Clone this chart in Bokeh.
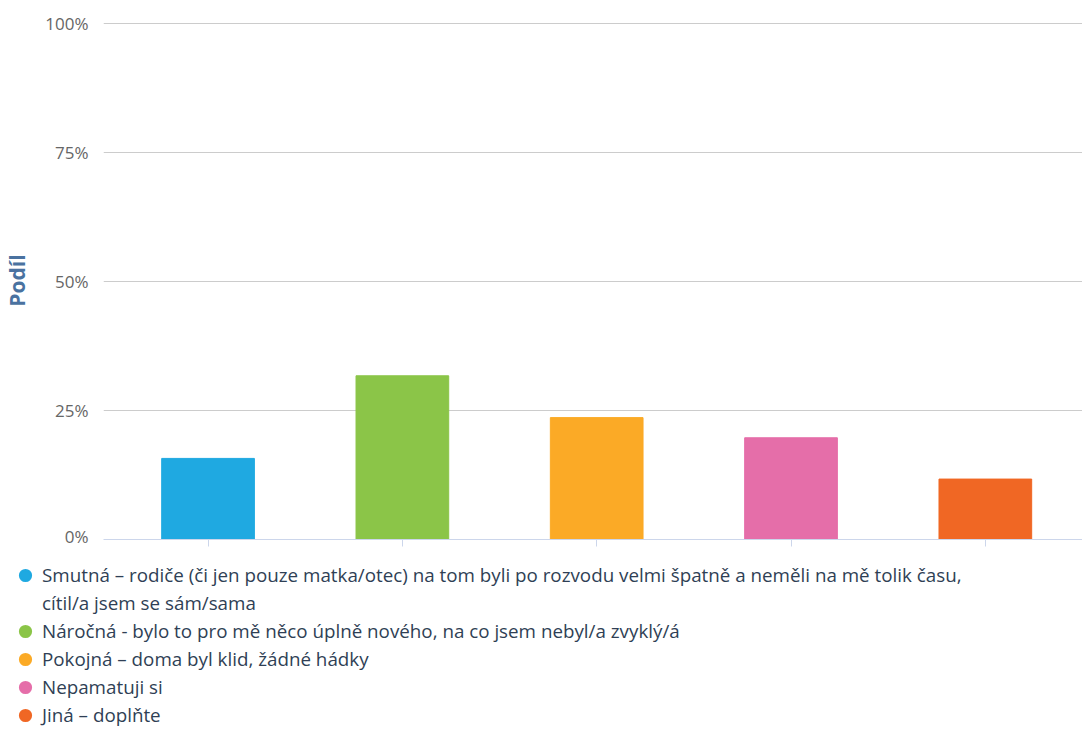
import numpy as np
from bokeh.plotting import figure
from bokeh.layouts import column
from bokeh.models import (ColumnDataSource, Range1d, FixedTicker, PrintfTickFormatter,
                          Legend, LegendItem)
from bokeh.embed import file_html
from bokeh.resources import INLINE

categories = [
    "Smutná – rodiče (či jen pouze matka/otec) na tom byli po rozvodu velmi špatně a neměli na mě tolik času,",
    "Náročná - bylo to pro mě něco úplně nového, na co jsem nebyl/a zvyklý/á",
    "Pokojná – doma byl klid, žádné hádky",
    "Nepamatuji si",
    "Jiná – doplňte",
]
wrap_line = "cítil/a jsem se sám/sama"
shares = [15.7, 31.7, 23.6, 19.7, 11.7]
colors = ["#1fa9e1", "#8bc548", "#fbaa26", "#e56ea9", "#f06724"]
y_ticks = [0, 25, 50, 75, 100]

xs = list(np.arange(len(categories)) + 0.5)
src = ColumnDataSource(dict(x=xs, top=shares, color=colors))

p = figure(width=1082, height=547, output_backend="svg", toolbar_location=None,
           x_range=Range1d(-0.038, 5.0), y_range=Range1d(0, 100.3),
           min_border_left=102, min_border_right=0, min_border_top=21,
           min_border_bottom=8)
p.outline_line_color = None
p.frame_align = False

p.vbar(x="x", top="top", width=0.477, color="color", source=src)

# y axis
yax = p.yaxis[0]
yax.ticker = FixedTicker(ticks=y_ticks)
yax.formatter = PrintfTickFormatter(format="%d%%")
yax.axis_line_color = None
yax.major_tick_line_color = None
yax.minor_tick_line_color = None
yax.major_label_text_font = "Open Sans"
yax.major_label_text_font_size = "17px"
yax.major_label_text_color = "#666666"
yax.major_label_standoff = 9
yax.axis_label = "Podíl"
yax.axis_label_text_font = "Open Sans"
yax.axis_label_text_font_style = "bold"
yax.axis_label_text_font_size = "21px"
yax.axis_label_text_color = "#4a72a0"
yax.axis_label_standoff = 11

# x axis
xax = p.xaxis[0]
xax.ticker = FixedTicker(ticks=xs)
xax.major_label_overrides = {x: "" for x in xs}
xax.axis_line_color = "#ccd6eb"
xax.major_tick_line_color = "#ccd6eb"
xax.major_tick_out = 7
xax.major_tick_in = 0
xax.minor_tick_line_color = None

p.xgrid.grid_line_color = None
p.ygrid.ticker = FixedTicker(ticks=y_ticks)
p.ygrid.grid_line_color = "#cccccc"

# legend figure
lg = figure(width=1082, height=182, output_backend="svg", toolbar_location=None,
            x_axis_location=None, y_axis_location=None,
            min_border=0, x_range=Range1d(0, 1), y_range=Range1d(0, 1))
lg.outline_line_color = None
lg.grid.visible = False
lg.frame_align = False

items = []
for i, (c, col) in enumerate(zip(categories, colors)):
    r = lg.scatter(x=[np.nan], y=[np.nan], marker="circle", fill_color=col,
                   line_color=col, line_width=2)
    items.append(LegendItem(label=c, renderers=[r]))
    if i == 0:
        r2 = lg.scatter(x=[np.nan], y=[np.nan], marker="circle", fill_alpha=0, line_alpha=0)
        items.append(LegendItem(label=wrap_line, renderers=[r2]))

legend = Legend(items=items, location=(10, 0), orientation="vertical",
                label_text_font="Open Sans", label_text_font_size="18.8px",
                label_text_color="#2f3f55", label_height=20, glyph_height=28,
                glyph_width=30, label_standoff=2, spacing=0, padding=0, margin=0,
                border_line_color=None, background_fill_alpha=0)
lg.add_layout(legend, "center")

layout = column(p, lg, spacing=0)
open("out.html", "w").write(file_html(layout, INLINE))
